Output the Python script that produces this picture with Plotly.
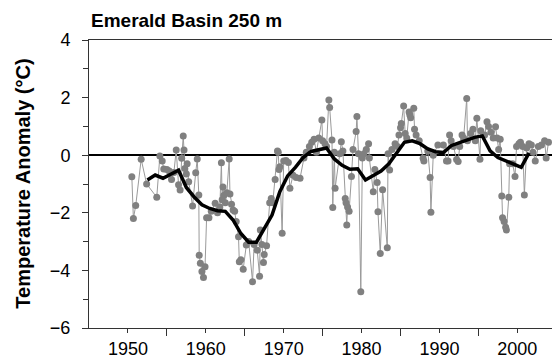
import plotly.graph_objects as go

# Observed anomalies (decimal year, °C)
obs_year = [1950.5, 1950.7, 1951.0, 1951.7, 1952.4, 1953.7, 1954.1, 1954.4, 1954.6, 1955.0,
            1955.3, 1955.6, 1955.9, 1956.2, 1956.5, 1956.7, 1956.9, 1957.1, 1957.2, 1957.3,
            1957.5, 1957.6, 1957.8, 1958.3, 1958.7, 1958.9, 1959.1, 1959.15, 1959.3, 1959.5,
            1959.7, 1959.9, 1960.1, 1960.4, 1960.7, 1961.2, 1961.5, 1961.8, 1962.0, 1962.1,
            1962.2, 1962.3, 1962.5, 1962.7, 1963.0, 1963.1, 1963.3, 1963.5, 1963.7, 1963.9,
            1964.2, 1964.3, 1964.5, 1964.8, 1965.2, 1965.5, 1966.0, 1966.2, 1966.6, 1966.9,
            1967.0, 1967.2, 1967.4, 1967.5, 1967.8, 1968.2, 1968.4, 1968.6, 1968.9, 1969.2,
            1969.3, 1969.4, 1969.5, 1969.8, 1970.0, 1970.3, 1970.6, 1970.8, 1971.2, 1971.6,
            1972.1, 1972.6, 1972.9, 1973.3, 1973.6, 1973.9, 1974.2, 1974.5, 1974.9, 1975.0,
            1975.3, 1975.5, 1975.8, 1975.9, 1976.2, 1976.3, 1976.5, 1976.6, 1977.2, 1977.4,
            1977.6, 1977.9, 1978.0, 1978.1, 1978.2, 1978.4, 1978.7, 1978.9, 1979.3, 1979.4,
            1979.6, 1979.9, 1980.1, 1980.3, 1980.6, 1980.9, 1981.0, 1981.5, 1981.7, 1982.0,
            1982.1, 1982.4, 1982.7, 1983.3, 1983.4, 1983.6, 1983.9, 1984.3, 1984.6, 1984.8,
            1985.0, 1985.1, 1985.4, 1985.6, 1985.8, 1986.1, 1986.2, 1986.3, 1986.7, 1986.8,
            1987.0, 1987.4, 1987.9, 1988.0, 1988.5, 1988.8, 1988.9, 1989.2, 1989.8, 1990.5,
            1990.9, 1991.1, 1991.3, 1991.5, 1991.8, 1992.2, 1992.4, 1992.6, 1992.9, 1993.1,
            1993.5, 1993.6, 1994.0, 1994.3, 1994.6, 1994.8, 1995.2, 1995.3, 1995.8, 1996.1,
            1996.3, 1996.6, 1996.9, 1997.2, 1997.4, 1997.6, 1997.8, 1998.0, 1998.1, 1998.3,
            1998.5, 1998.6, 1998.9, 1999.0, 1999.4, 1999.7, 1999.9, 2000.2, 2000.4, 2000.7,
            2000.9, 2001.2, 2001.5, 2001.8, 2002.0, 2002.3, 2002.7, 2003.1, 2003.5, 2003.7,
            2004.0]
obs_anom = [-0.75, -2.2, -1.75, -0.14, -1.0, -1.46, -0.03, -0.2, -0.48, -0.5,
            -0.55, -0.84, -0.6, 0.18, -1.03, -1.21, -0.11, 0.67, 0.18, -0.46,
            -0.65, -0.3, -0.92, -1.76, -0.61, -0.13, -1.38, -3.47, -3.75, -4.04,
            -4.25, -3.87, -2.17, -2.17, -1.95, -1.67, -2.0, -1.8, -0.26, -1.55,
            -1.1, -1.4, -1.65, -1.3, -0.13, -1.35, -1.7, -1.9, -1.95, -2.3,
            -2.83, -3.7, -3.63, -3.96, -3.12, -3.0, -4.39, -3.1, -3.3, -4.2,
            -2.6, -3.1, -3.73, -3.45, -3.14, -1.65, -1.5, -1.65, -0.84, 0.15,
            0.1, -0.5, -0.4, -2.71, -0.2, -0.18, -0.25, -1.15, -0.7, -0.77,
            -0.8, -0.1, 0.1, 0.3, 0.45, 0.55, 0.1, 0.6, 1.22, 0.5,
            0.4, 0.3, 1.92, 1.66, 0.53, -1.82, 0.1, -1.15, 0.05, 0.47,
            0.15, -1.5, -1.65, -2.42, -1.8, -1.95, -0.74, 0.2, 0.82, 1.34,
            0.05, -4.74, -0.1, 0.05, 0.2, 0.4, -0.1, -1.27, -0.5, -0.95,
            -1.96, -3.41, -1.2, -3.21, 0.05, -0.51, 0.2, 0.4, 0.3, 0.7,
            0.95, 1.1, 1.71, 0.75, 0.6, 1.5, 1.4, 1.3, 1.63, 0.9,
            0.7, 0.5, -0.11, -0.2, 0.15, -0.77, -1.98, 0.0, 0.35, 0.35,
            -0.2, -0.2, 0.7, 0.5, 0.3, -0.15, -0.22, 0.3, 0.7, 0.6,
            1.97, 0.5, 0.75, 0.9, 0.5, 1.28, -0.14, 0.85, 0.7, 1.16,
            1.0, 0.8, 0.6, 0.99, 0.6, 0.2, 0.55, -1.42, -2.17, -2.3,
            -2.5, -2.6, -1.46, -0.3, -0.3, -0.74, 0.3, 0.4, 0.45, 0.3,
            -1.38, 0.25, 0.4, 0.35, 0.1, -0.2, 0.3, 0.35, 0.5, -0.1,
            0.45]

# Smoothed (running mean) curve
smooth_year = [1952.5, 1953.5, 1954.5, 1955.5, 1956.5, 1957.5, 1958.5, 1959.5, 1960.5, 1961.5,
               1962.5, 1963.5, 1964.5, 1965.5, 1966.5, 1967.5, 1968.5, 1969.5, 1970.5, 1971.5,
               1972.5, 1973.5, 1974.5, 1975.5, 1976.5, 1977.5, 1978.5, 1979.5, 1980.5, 1981.5,
               1982.5, 1983.5, 1984.5, 1985.5, 1986.5, 1987.5, 1988.5, 1989.5, 1990.5, 1991.5,
               1992.5, 1993.5, 1994.5, 1995.5, 1996.5, 1997.5, 1998.5, 1999.5, 2000.5, 2001.5]
smooth_anom = [-0.86, -0.69, -0.8, -0.65, -0.52, -1.12, -1.45, -1.72, -1.85, -1.93,
               -1.95, -2.25, -2.72, -3.02, -3.02, -2.55, -2.08, -1.27, -0.72, -0.42,
               -0.08, 0.13, 0.2, 0.25, -0.13, -0.35, -0.49, -0.47, -0.86, -0.7,
               -0.55, -0.3, 0.07, 0.45, 0.5, 0.4, 0.22, 0.12, 0.09, 0.33,
               0.43, 0.52, 0.62, 0.67, 0.15, -0.08, -0.2, -0.3, -0.42, 0.08]

x_ticks = [1950, 1960, 1970, 1980, 1990, 2000]
x_minor = [1955, 1965, 1975, 1985, 1995, 2005]
y_ticks = [-6, -4, -2, 0, 2, 4]
y_minor = [-5, -3, -1, 1, 3]

fig = go.Figure()
fig.add_trace(go.Scatter(
    x=obs_year, y=obs_anom, mode="lines+markers",
    line=dict(color="#9a9a9a", width=1),
    marker=dict(color="#808080", size=7),
    showlegend=False, hoverinfo="skip"))
fig.add_trace(go.Scatter(
    x=smooth_year, y=smooth_anom, mode="lines",
    line=dict(color="black", width=3.5),
    showlegend=False, hoverinfo="skip"))

fig.update_layout(
    width=552, height=362,
    margin=dict(l=89, r=0, t=40, b=34),
    paper_bgcolor="white", plot_bgcolor="white",
    font=dict(family="Liberation Sans, Arial, sans-serif", color="black"),
    annotations=[
        dict(text="<b>Emerald Basin 250 m</b>", xref="paper", yref="paper",
             x=0.0, y=1.066, xanchor="left", yanchor="middle", showarrow=False,
             font=dict(size=19, color="black")),
        dict(text="<b>Temperature Anomaly (°C)</b>", xref="paper", yref="paper",
             x=-0.142, y=0.502, xanchor="center", yanchor="middle", showarrow=False,
             textangle=-90, font=dict(size=20, color="black")),
    ],
)
fig.update_xaxes(
    range=[1945.0, 2004.45], tickmode="array", tickvals=x_ticks,
    ticks="outside", ticklen=4, tickcolor="#333", tickwidth=1,
    minor=dict(tickmode="array", tickvals=x_minor, ticks="outside", ticklen=7,
               tickcolor="#333", tickwidth=1, showgrid=False),
    showline=True, linecolor="#333", linewidth=1, mirror=True,
    showgrid=False, zeroline=False, tickfont=dict(size=18, color="black"),
)
fig.update_yaxes(
    range=[-6, 4], tickmode="array", tickvals=y_ticks,
    ticks="outside", ticklen=6, tickcolor="#333", tickwidth=1,
    minor=dict(tickmode="array", tickvals=y_minor, ticks="outside", ticklen=5,
               tickcolor="#333", tickwidth=1, showgrid=False),
    showline=True, linecolor="#333", linewidth=1,
    showgrid=False, zeroline=True, zerolinecolor="black", zerolinewidth=1.5,
    tickfont=dict(size=18, color="black"), ticklabelstandoff=8,
)

fig.write_html("out.html")
